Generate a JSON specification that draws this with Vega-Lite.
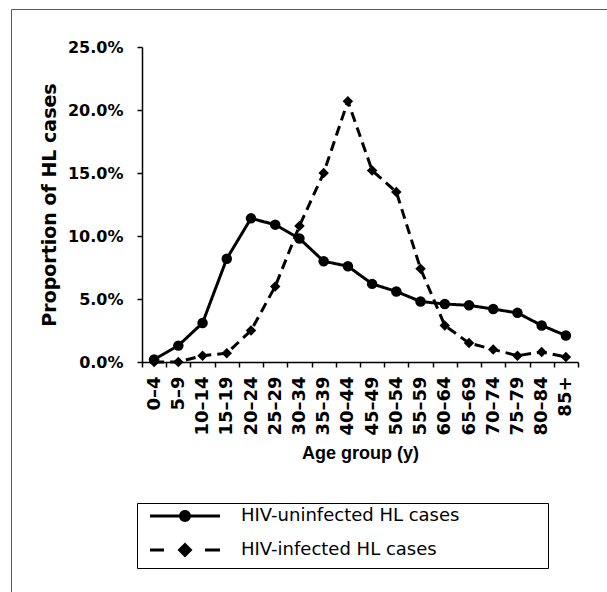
{
  "$schema": "https://vega.github.io/schema/vega-lite/v6.json",
  "width": 436,
  "height": 315,
  "autosize": {"type": "none"},
  "padding": {"left": 142, "top": 47, "right": 29, "bottom": 230},
  "background": "white",
  "config": {
    "view": {"stroke": null},
    "axis": {"domainColor": "#000", "tickColor": "#000", "labelColor": "#000", "titleColor": "#000", "grid": false, "domainWidth": 1.5, "tickWidth": 1.5}
  },
  "resolve": {"scale": {"shape": "independent"}, "legend": {"shape": "independent"}},
  "data": {
    "values": [
      {"age": "0–4", "series": "HIV-uninfected HL cases", "value": 0.002},
      {"age": "5–9", "series": "HIV-uninfected HL cases", "value": 0.013},
      {"age": "10–14", "series": "HIV-uninfected HL cases", "value": 0.031},
      {"age": "15–19", "series": "HIV-uninfected HL cases", "value": 0.082},
      {"age": "20–24", "series": "HIV-uninfected HL cases", "value": 0.114},
      {"age": "25–29", "series": "HIV-uninfected HL cases", "value": 0.109},
      {"age": "30–34", "series": "HIV-uninfected HL cases", "value": 0.098},
      {"age": "35–39", "series": "HIV-uninfected HL cases", "value": 0.080},
      {"age": "40–44", "series": "HIV-uninfected HL cases", "value": 0.076},
      {"age": "45–49", "series": "HIV-uninfected HL cases", "value": 0.062},
      {"age": "50–54", "series": "HIV-uninfected HL cases", "value": 0.056},
      {"age": "55–59", "series": "HIV-uninfected HL cases", "value": 0.048},
      {"age": "60–64", "series": "HIV-uninfected HL cases", "value": 0.046},
      {"age": "65–69", "series": "HIV-uninfected HL cases", "value": 0.045},
      {"age": "70–74", "series": "HIV-uninfected HL cases", "value": 0.042},
      {"age": "75–79", "series": "HIV-uninfected HL cases", "value": 0.039},
      {"age": "80–84", "series": "HIV-uninfected HL cases", "value": 0.029},
      {"age": "85+", "series": "HIV-uninfected HL cases", "value": 0.021},
      {"age": "0–4", "series": "HIV-infected HL cases", "value": 0.0},
      {"age": "5–9", "series": "HIV-infected HL cases", "value": 0.0},
      {"age": "10–14", "series": "HIV-infected HL cases", "value": 0.005},
      {"age": "15–19", "series": "HIV-infected HL cases", "value": 0.007},
      {"age": "20–24", "series": "HIV-infected HL cases", "value": 0.025},
      {"age": "25–29", "series": "HIV-infected HL cases", "value": 0.060},
      {"age": "30–34", "series": "HIV-infected HL cases", "value": 0.108},
      {"age": "35–39", "series": "HIV-infected HL cases", "value": 0.150},
      {"age": "40–44", "series": "HIV-infected HL cases", "value": 0.207},
      {"age": "45–49", "series": "HIV-infected HL cases", "value": 0.152},
      {"age": "50–54", "series": "HIV-infected HL cases", "value": 0.135},
      {"age": "55–59", "series": "HIV-infected HL cases", "value": 0.074},
      {"age": "60–64", "series": "HIV-infected HL cases", "value": 0.029},
      {"age": "65–69", "series": "HIV-infected HL cases", "value": 0.015},
      {"age": "70–74", "series": "HIV-infected HL cases", "value": 0.010},
      {"age": "75–79", "series": "HIV-infected HL cases", "value": 0.005},
      {"age": "80–84", "series": "HIV-infected HL cases", "value": 0.008},
      {"age": "85+", "series": "HIV-infected HL cases", "value": 0.004}
    ]
  },
  "encoding": {
    "x": {
      "field": "age",
      "type": "ordinal",
      "bandPosition": 0.5,
      "scale": {"type": "band", "paddingInner": 0, "paddingOuter": 0,
        "domain": ["0–4","5–9","10–14","15–19","20–24","25–29","30–34","35–39","40–44","45–49","50–54","55–59","60–64","65–69","70–74","75–79","80–84","85+"]},
      "axis": {
        "title": "Age group (y)",
        "tickBand": "extent",
        "labelAngle": -90,
        "labelAlign": "right",
        "labelBaseline": "middle",
        "labelFont": "DejaVu Sans",
        "labelFontWeight": "bold",
        "labelFontSize": 18,
        "labelPadding": 9,
        "tickSize": 5,
        "titleFont": "Liberation Sans",
        "titleFontWeight": "bold",
        "titleFontSize": 18,
        "titlePadding": 9
      }
    },
    "y": {
      "field": "value",
      "type": "quantitative",
      "scale": {"domain": [0, 0.25], "nice": false},
      "axis": {
        "title": "Proportion of HL cases",
        "format": ".1%",
        "values": [0, 0.05, 0.1, 0.15, 0.2, 0.25],
        "labelFont": "DejaVu Sans",
        "labelFontWeight": "bold",
        "labelFontSize": 16,
        "labelPadding": 14,
        "tickSize": 5,
        "titleFont": "DejaVu Sans",
        "titleFontWeight": "bold",
        "titleFontSize": 19,
        "titlePadding": 8
      }
    }
  },
  "layer": [
    {
      "mark": {"type": "line", "color": "#000", "strokeWidth": 3, "interpolate": "linear"},
      "encoding": {
        "strokeDash": {
          "field": "series",
          "type": "nominal",
          "scale": {"domain": ["HIV-uninfected HL cases", "HIV-infected HL cases"], "range": [[1, 0], [10, 6]]},
          "legend": null
        }
      }
    },
    {
      "mark": {"type": "point", "filled": true, "color": "#000", "opacity": 1, "size": 110},
      "encoding": {
        "shape": {
          "field": "series",
          "type": "nominal",
          "scale": {"domain": ["HIV-uninfected HL cases", "HIV-infected HL cases"], "range": ["circle", "diamond"]},
          "legend": null
        }
      }
    },
    {
      "mark": {"type": "point", "filled": true, "color": "#000", "opacity": 0},
      "encoding": {
        "size": {
          "field": "age",
          "type": "ordinal",
          "legend": {
            "title": null,
            "values": ["0–4"],
            "orient": "none",
            "legendX": -131,
            "legendY": -38,
            "strokeColor": "#5a5a5a",
            "padding": 330,
            "symbolOpacity": 0,
            "labelExpr": "''"
          }
        },
        "shape": {
          "field": "series",
          "type": "nominal",
          "scale": {"domain": ["HIV-uninfected HL cases", "HIV-infected HL cases"], "range": ["M-5,-0.214H-0.8V0.214H-5ZM0.8,-0.214H5V0.214H0.8ZM-0.857,0A0.857,0.857,0,1,1,0.857,0A0.857,0.857,0,1,1,-0.857,0ZM50.3,0", "M-5,-0.214H-3V0.214H-5ZM2.86,-0.214H5V0.214H2.86ZM0,-1.07L1.07,0L0,1.07L-1.07,0ZM50.3,0"]},
          "legend": {
            "title": null,
            "orient": "none",
            "legendX": -5,
            "legendY": 456,
            "strokeColor": "#000",
            "fillColor": "white",
            "padding": 4,
            "symbolSize": 196,
            "symbolOpacity": 1,
            "symbolStrokeWidth": 3,
            "symbolStrokeColor": "#000",
            "symbolFillColor": "#000",
            "symbolOffset": 35,
            "labelOffset": 47,
            "labelFont": "DejaVu Sans",
            "labelFontSize": 18,
            "labelColor": "#000",
            "labelLimit": 500,
            "rowPadding": 8
          }
        }
      }
    }
  ]
}
